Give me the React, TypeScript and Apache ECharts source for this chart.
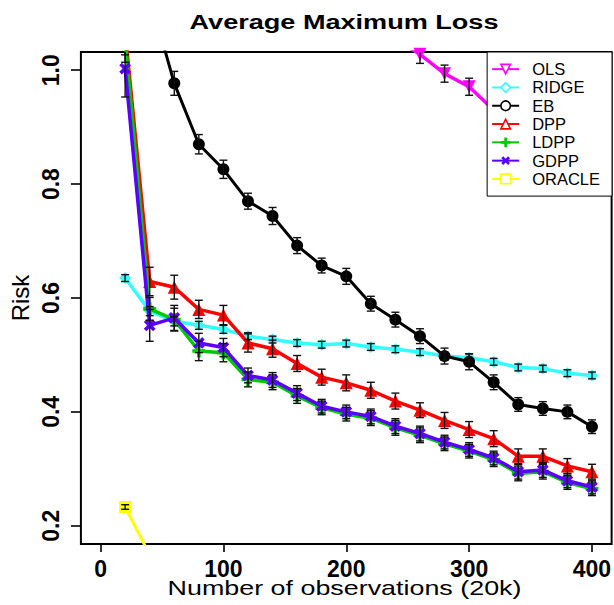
import React, { useEffect, useRef } from "react";
import * as echarts from "echarts";

const xObs = [20, 40, 60, 80, 100, 120, 140, 160, 180, 200, 220, 240, 260, 280, 300, 320, 340, 360, 380, 400];

const olsRisk = [2.6, 2.0, 1.7, 1.5, 1.38, 1.3, 1.23, 1.18, 1.14, 1.11, 1.08, 1.055, 1.028, 0.994, 0.971, 0.93, 0.91, 0.89, 0.87, 0.85];
const ridgeRisk = [0.635, 0.577, 0.559, 0.552, 0.545, 0.533, 0.527, 0.521, 0.518, 0.52, 0.514, 0.51, 0.505, 0.498, 0.495, 0.488, 0.478, 0.476, 0.468, 0.464];
const ebRisk = [1.45, 1.13, 0.977, 0.87, 0.826, 0.77, 0.744, 0.692, 0.657, 0.638, 0.59, 0.562, 0.533, 0.498, 0.488, 0.452, 0.413, 0.406, 0.4, 0.374];
const dppRisk = [1.067, 0.629, 0.619, 0.58, 0.57, 0.521, 0.511, 0.485, 0.461, 0.451, 0.438, 0.419, 0.403, 0.385, 0.369, 0.353, 0.322, 0.322, 0.305, 0.295];
const ldppRisk = [1.054, 0.581, 0.562, 0.507, 0.504, 0.457, 0.452, 0.428, 0.407, 0.396, 0.389, 0.372, 0.359, 0.344, 0.331, 0.316, 0.292, 0.295, 0.276, 0.265];
const gdppRisk = [1.003, 0.552, 0.565, 0.521, 0.513, 0.464, 0.456, 0.433, 0.41, 0.4, 0.392, 0.375, 0.362, 0.347, 0.334, 0.319, 0.295, 0.298, 0.279, 0.268];
const oracleRisk = [0.233, 0.149, 0.125, 0.112, 0.103, 0.097, 0.092, 0.088, 0.085, 0.082, 0.08, 0.078, 0.076, 0.074, 0.073, 0.071, 0.07, 0.069, 0.068, 0.067];

const olsErr = [0.05, 0.04, 0.03, 0.03, 0.025, 0.02, 0.02, 0.02, 0.02, 0.02, 0.02, 0.018, 0.016, 0.015, 0.015, 0.015, 0.015, 0.015, 0.015, 0.015];
const ridgeErr = [0.006, 0.008, 0.008, 0.007, 0.007, 0.006, 0.006, 0.006, 0.006, 0.006, 0.006, 0.006, 0.006, 0.007, 0.007, 0.006, 0.006, 0.006, 0.006, 0.006];
const ebErr = [0.04, 0.03, 0.021, 0.017, 0.016, 0.014, 0.015, 0.014, 0.013, 0.014, 0.013, 0.013, 0.013, 0.014, 0.014, 0.013, 0.012, 0.012, 0.012, 0.012];
const dppErr = [0.04, 0.025, 0.021, 0.016, 0.017, 0.016, 0.015, 0.014, 0.014, 0.014, 0.014, 0.014, 0.013, 0.014, 0.014, 0.014, 0.013, 0.013, 0.013, 0.013];
const ldppErr = [0.04, 0.02, 0.02, 0.017, 0.016, 0.013, 0.013, 0.013, 0.012, 0.012, 0.013, 0.013, 0.013, 0.012, 0.012, 0.012, 0.013, 0.013, 0.012, 0.012];
const gdppErr = [0.05, 0.028, 0.022, 0.017, 0.016, 0.013, 0.013, 0.013, 0.012, 0.012, 0.013, 0.013, 0.013, 0.012, 0.012, 0.012, 0.013, 0.013, 0.012, 0.012];
const oracleErr = [0.004, 0.004, 0.004, 0.004, 0.004, 0.004, 0.004, 0.004, 0.004, 0.004, 0.004, 0.004, 0.004, 0.004, 0.004, 0.004, 0.004, 0.004, 0.004, 0.004];

const xTicks = [0, 100, 200, 300, 400];
const yTicks = [0.2, 0.4, 0.6, 0.8, 1.0];

const FONT = '"Liberation Sans", Arial, Helvetica, sans-serif';
const PLUS = "path://M3.6,0H6.4V3.6H10V6.4H6.4V10H3.6V6.4H0V3.6H3.6Z";

type Method = {
  name: string;
  values: number[];
  err: number[];
  color: string;
  symbol: string;
  rotate: number;
  hollowLegend: boolean;
  width: number;
};

const methods: Method[] = [
  { name: "OLS", values: olsRisk, err: olsErr, color: "#FF00FF", symbol: "triangle", rotate: 180, hollowLegend: true, width: 3.5 },
  { name: "RIDGE", values: ridgeRisk, err: ridgeErr, color: "#33FFFF", symbol: "diamond", rotate: 0, hollowLegend: true, width: 3.5 },
  { name: "EB", values: ebRisk, err: ebErr, color: "#000000", symbol: "circle", rotate: 0, hollowLegend: true, width: 3 },
  { name: "DPP", values: dppRisk, err: dppErr, color: "#FF0000", symbol: "triangle", rotate: 0, hollowLegend: true, width: 3.5 },
  { name: "LDPP", values: ldppRisk, err: ldppErr, color: "#00C800", symbol: PLUS, rotate: 0, hollowLegend: false, width: 3.5 },
  { name: "GDPP", values: gdppRisk, err: gdppErr, color: "#5A00FF", symbol: PLUS, rotate: 45, hollowLegend: false, width: 3.5 },
  { name: "ORACLE", values: oracleRisk, err: oracleErr, color: "#FFFF00", symbol: "rect", rotate: 0, hollowLegend: true, width: 3 },
];

export default function App() {
  const ref = useRef<HTMLDivElement>(null);

  useEffect(() => {
    if (!ref.current) return;
    const chart = echarts.init(ref.current, undefined, { renderer: "svg" });

    const lineSeries = methods.map((m, k) => ({
      type: "line",
      name: m.name,
      data: xObs.map((x, i) => [x, m.values[i]]),
      symbol: m.symbol,
      symbolSize: m.symbol === PLUS ? 13 : m.symbol === "triangle" ? 13 : 12,
      symbolRotate: m.rotate,
      showAllSymbol: true,
      clip: true,
      lineStyle: { color: m.color, width: m.width },
      itemStyle: { color: m.color },
      z: 2 + k * 0.01,
      emphasis: { disabled: true },
    }));

    const errData: number[][] = [];
    methods.forEach((m) => {
      xObs.forEach((x, i) => errData.push([x, m.values[i], m.err[i]]));
    });

    const errSeries = {
      type: "custom",
      name: "errorbars",
      data: errData,
      encode: { x: 0, y: 1 },
      clip: true,
      z: 5,
      renderItem: (params: any, api: any) => {
        const x = api.value(0);
        const y = api.value(1);
        const e = api.value(2);
        const top = api.coord([x, y + e]);
        const bot = api.coord([x, y - e]);
        const hw = 4;
        const st = { stroke: "#111", lineWidth: 1.4 };
        return {
          type: "group",
          children: [
            { type: "line", shape: { x1: top[0], y1: top[1], x2: bot[0], y2: bot[1] }, style: st },
            { type: "line", shape: { x1: top[0] - hw, y1: top[1], x2: top[0] + hw, y2: top[1] }, style: st },
            { type: "line", shape: { x1: bot[0] - hw, y1: bot[1], x2: bot[0] + hw, y2: bot[1] }, style: st },
          ],
        };
      },
    };

    const option: any = {
      animation: false,
      backgroundColor: "#fff",
      textStyle: { fontFamily: FONT },
      grid: {
        left: 77,
        top: 52,
        right: 2,
        bottom: 61,
        show: true,
        borderColor: "#000",
        borderWidth: 2,
        backgroundColor: "transparent",
      },
      graphic: [
        {
          type: "text",
          x: 344,
          y: 22,
          scaleX: 1.29,
          style: {
            text: "Average Maximum Loss",
            fontFamily: FONT,
            fontSize: 21,
            fontWeight: "bold",
            fill: "#000",
            align: "center",
            verticalAlign: "middle",
          },
        },
        {
          type: "text",
          x: 344.5,
          y: 588,
          scaleX: 1.28,
          style: {
            text: "Number of observations (20k)",
            fontFamily: FONT,
            fontSize: 21,
            fill: "#000",
            align: "center",
            verticalAlign: "middle",
          },
        },
      ],
      legend: {
        orient: "vertical",
        right: 2,
        top: 52,
        backgroundColor: "#fff",
        borderColor: "#000",
        borderWidth: 1,
        borderRadius: 0,
        padding: [8, 12, 8, 4],
        itemWidth: 27,
        itemHeight: 12,
        itemGap: 0,
        selectedMode: false,
        z: 20,
        lineStyle: { width: 2 },
        textStyle: { fontFamily: FONT, fontSize: 16.5, lineHeight: 18.3, color: "#000", padding: [0, 0, 0, 8] },
        data: methods.map((m) => ({
          name: m.name,
          itemStyle: m.hollowLegend
            ? { color: "#fff", borderColor: m.color, borderWidth: 1.6 }
            : { color: m.color },
        })),
      },
      xAxis: {
        type: "value",
        min: -16,
        max: 416,
        axisLine: { show: false, onZero: false },
        splitLine: { show: false },
        axisTick: { show: true, customValues: xTicks, length: 8, lineStyle: { color: "#000", width: 1.6 } },
        axisLabel: {
          customValues: xTicks,
          fontFamily: FONT,
          fontSize: 23,
          fontWeight: "bold",
          color: "#000",
          margin: 13,
        },
      },
      yAxis: {
        type: "value",
        min: 0.168,
        max: 1.032,
        name: "Risk",
        nameLocation: "middle",
        nameGap: 43,
        nameTextStyle: { fontFamily: FONT, fontSize: 24, color: "#000" },
        axisLine: { show: false, onZero: false },
        splitLine: { show: false },
        axisTick: { show: true, customValues: yTicks, length: 10, lineStyle: { color: "#000", width: 1.6 } },
        axisLabel: {
          customValues: yTicks,
          rotate: 90,
          fontFamily: FONT,
          fontSize: 23,
          fontWeight: "bold",
          color: "#000",
          margin: 18,
          formatter: (v: number) => v.toFixed(1),
        },
      },
      series: [...lineSeries, errSeries],
    };

    chart.setOption(option);
    return () => chart.dispose();
  }, []);

  return (
    <div
      ref={ref}
      style={{ position: "fixed", left: 0, top: 0, width: 614, height: 605, background: "#fff" }}
    />
  );
}
